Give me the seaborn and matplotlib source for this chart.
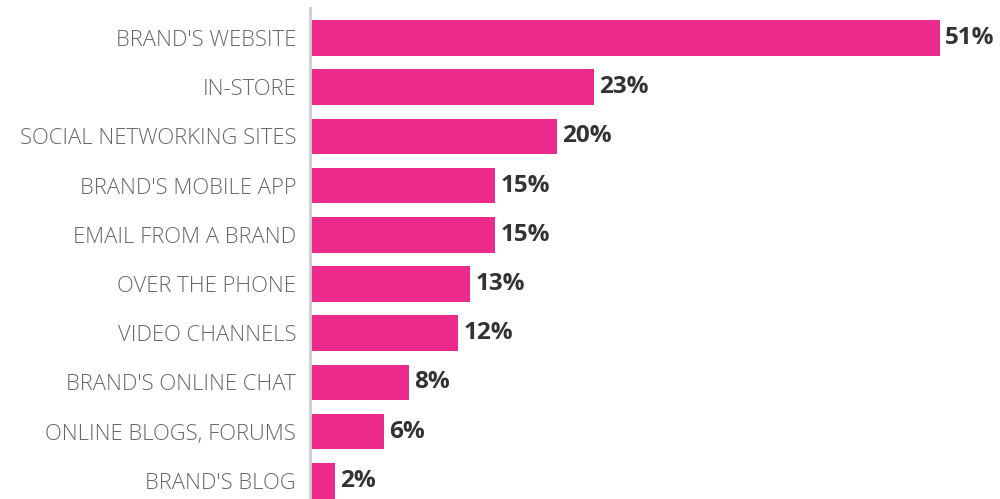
import matplotlib
matplotlib.use("Agg")
import matplotlib.pyplot as plt
import seaborn as sns
import pandas as pd

channels = [
    "BRAND'S WEBSITE",
    "IN-STORE",
    "SOCIAL NETWORKING SITES",
    "BRAND'S MOBILE APP",
    "EMAIL FROM A BRAND",
    "OVER THE PHONE",
    "VIDEO CHANNELS",
    "BRAND'S ONLINE CHAT",
    "ONLINE BLOGS, FORUMS",
    "BRAND'S BLOG",
]
shares = [51, 23, 20, 15, 15, 13, 12, 8, 6, 2]

df = pd.DataFrame({"channel": channels, "share": shares})

sns.set_theme(style="white")
plt.rcParams["font.family"] = ["Open Sans", "DejaVu Sans"]

fig = plt.figure(figsize=(10, 4.99), dpi=100)
ax = fig.add_axes([0.31, 0.0, 0.69, 0.984])

sns.barplot(data=df, x="share", y="channel", color="#EC2A8C", saturation=1,
            width=0.72, ax=ax, edgecolor="none")

ax.set_xlim(0, 55.9)
ax.set_ylim(9.37, -0.61)
ax.set_xlabel("")
ax.set_ylabel("")
ax.set_xticks([])
for side in ["top", "right", "bottom"]:
    ax.spines[side].set_visible(False)
ax.spines["left"].set_color("#c9d2ce")
ax.spines["left"].set_linewidth(2)

ax.tick_params(axis="y", length=0, pad=10)
for lbl in ax.get_yticklabels():
    lbl.set_fontsize(15.8)
    lbl.set_fontweight("light")
    lbl.set_color("#666666")

for i, v in enumerate(shares):
    ax.text(v + 0.45, i, f"{v}%", va="center", ha="left",
            fontsize=17.5, fontweight="bold", color="#333333")

fig.savefig("out.png", dpi=100)
